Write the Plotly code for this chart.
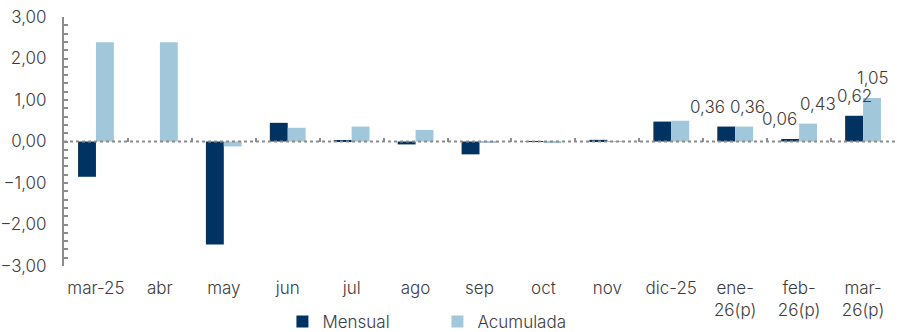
import plotly.graph_objects as go

# Monthly and cumulative variation (%)
categories = ["mar-25", "abr", "may", "jun", "jul", "ago", "sep", "oct", "nov",
              "dic-25", "ene-<br>26(p)", "feb-<br>26(p)", "mar-<br>26(p)"]
mensual = [-0.85, 0.00, -2.48, 0.45, 0.02, -0.07, -0.31, -0.01, 0.04, 0.48, 0.36, 0.06, 0.62]
acumulada = [2.39, 2.39, -0.12, 0.33, 0.36, 0.28, -0.03, -0.04, 0.01, 0.50, 0.36, 0.43, 1.05]
y_ticks = [-3, -2, -1, 0, 1, 2, 3]

# only the last months carry value labels
labeled_from = 10

NAVY = "#003262"
LIGHT = "#A0C8DA"
GREY = "#8C8C8C"
TEXT = "#3C3C3C"
FONT = "Inter"
WEIGHT = 300

fig = go.Figure()
fig.add_trace(go.Bar(name="Mensual", x=categories, y=mensual, marker_color=NAVY,
                     marker_line_width=0))
fig.add_trace(go.Bar(name="Acumulada", x=categories, y=acumulada, marker_color=LIGHT,
                     marker_line_width=0))

# helper axis carrying the category-boundary ticks on the zero line
fig.add_trace(go.Scatter(x=[0], y=[0], xaxis="x2", mode="markers",
                         marker_opacity=0, showlegend=False, hoverinfo="skip"))

# dotted zero line
fig.add_shape(type="line", xref="paper", yref="y", x0=0, x1=1, y0=0, y1=0,
              line=dict(color=GREY, width=2, dash="dot"), layer="above")

# value labels above the bars, nudged apart where they would collide
nudge_m = [-19, -11, 0]
nudge_a = [3, 10, 1]
for k, i in enumerate(range(labeled_from, len(categories))):
    for val, base, extra in ((mensual[i], -9, nudge_m[k]), (acumulada[i], 9, nudge_a[k])):
        fig.add_annotation(x=categories[i], y=val, text=f"{val:.2f}".replace(".", ","),
                           showarrow=False, xshift=base + extra, yshift=20,
                           yanchor="middle",
                           font=dict(family=FONT, size=17, color=TEXT, weight=WEIGHT))

tick_font = dict(family=FONT, size=17, color=TEXT, weight=WEIGHT)

fig.update_layout(
    width=898, height=332,
    margin=dict(l=64, r=3, t=17, b=66, autoexpand=False),
    paper_bgcolor="white", plot_bgcolor="white",
    barmode="group", bargap=0.44, bargroupgap=0,
    separators=",.",
    font=tick_font,
    showlegend=True,
    legend=dict(orientation="h", xref="container", yref="container",
                x=0.3145, xanchor="left", y=0.03, yanchor="middle",
                font=tick_font, itemwidth=30, entrywidth=110, traceorder="normal"),
    xaxis=dict(type="category", showline=False, ticks="", showgrid=False,
               zeroline=False, tickfont=tick_font, ticklabelstandoff=10),
    xaxis2=dict(overlaying="x", anchor="free", position=0.5, range=[-0.5, len(categories) - 0.5],
                tickmode="array", tickvals=[i + 0.5 for i in range(len(categories))],
                ticks="inside", ticklen=4, tickwidth=2, tickcolor=GREY,
                showticklabels=False, showline=False, showgrid=False, zeroline=False),
    yaxis=dict(range=[-3, 3], tickvals=y_ticks, tickformat=".2f",
               showline=True, linecolor=GREY, linewidth=2,
               ticks="inside", ticklen=4, tickwidth=1.5, tickcolor=GREY,
               minor=dict(dtick=0.2, ticks="inside", ticklen=4, tickwidth=1.5,
                          tickcolor=GREY, showgrid=False),
               showgrid=False, zeroline=False,
               ticklabelstandoff=12, tickfont=tick_font),
)

fig.write_html("out.html")
